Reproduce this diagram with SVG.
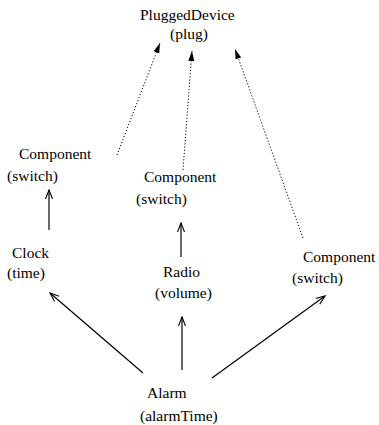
<svg xmlns="http://www.w3.org/2000/svg" width="379" height="425" viewBox="0 0 379 425">
<style>
text{font-family:"Liberation Serif","Times New Roman",serif;font-size:15.5px;fill:#000}
.s{stroke:#000;stroke-width:1.2;fill:none;marker-end:url(#open)}
.d{stroke:#000;stroke-width:1;fill:none;stroke-dasharray:1.2,2;marker-end:url(#fill)}
</style>
<defs>
<marker id="open" markerUnits="userSpaceOnUse" markerWidth="12" markerHeight="10" refX="9" refY="4" orient="auto" viewBox="0 0 12 8">
<path d="M0,0.5 L9,4 L0,7.5" fill="none" stroke="#000" stroke-width="1.1"/>
</marker>
<marker id="fill" markerUnits="userSpaceOnUse" markerWidth="12" markerHeight="8" refX="10" refY="3" orient="auto" viewBox="0 0 12 6">
<path d="M0,0 L10,3 L0,6 Z" fill="#000"/>
</marker>
</defs>
<g id="connectors">
<line class="d" x1="117" y1="155" x2="160" y2="43"/>
<line class="d" x1="183" y1="170" x2="192" y2="51"/>
<line class="d" x1="303" y1="238" x2="235" y2="49"/>
<line class="s" x1="49" y1="230" x2="49" y2="190"/>
<line class="s" x1="181" y1="257" x2="181" y2="223"/>
<line class="s" x1="143" y1="373" x2="50" y2="293"/>
<line class="s" x1="182" y1="370" x2="182" y2="317"/>
<line class="s" x1="212" y1="378" x2="325" y2="296"/>
</g>
<g id="plugged"><text x="140" y="20">PluggedDevice</text><text x="170" y="39">(plug)</text></g>
<g id="comp1"><text x="19" y="159">Component</text><text x="7" y="181">(switch)</text></g>
<g id="comp2"><text x="144" y="182">Component</text><text x="136" y="204">(switch)</text></g>
<g id="comp3"><text x="303" y="262">Component</text><text x="292" y="283">(switch)</text></g>
<g id="clock"><text x="12" y="258">Clock</text><text x="7" y="278">(time)</text></g>
<g id="radio"><text x="163" y="277">Radio</text><text x="155" y="298">(volume)</text></g>
<g id="alarm"><text x="147" y="398">Alarm</text><text x="140" y="421">(alarmTime)</text></g>
</svg>
